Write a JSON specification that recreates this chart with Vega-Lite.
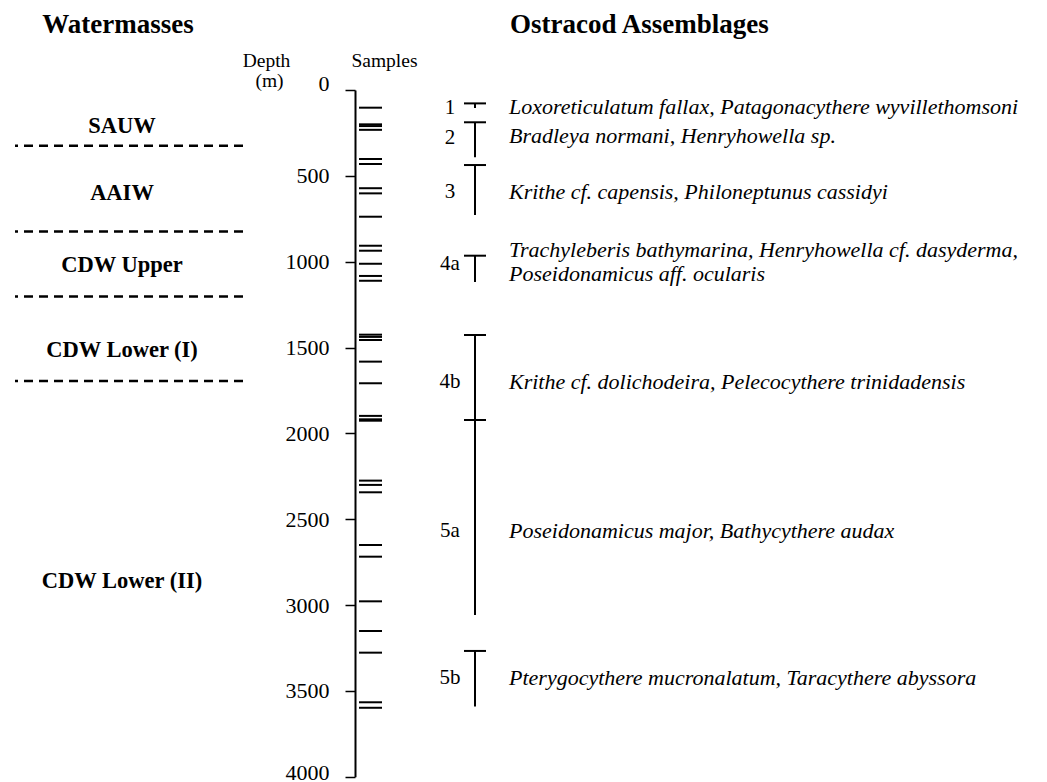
{
  "$schema": "https://vega.github.io/schema/vega-lite/v6.json",
  "background": "white",
  "padding": {"left": 13, "top": 0, "right": 0, "bottom": 0},
  "autosize": {"type": "pad"},
  "config": {"view": {"stroke": null}, "font": "Liberation Serif", "text": {"color": "black"}},
  "datasets": {
    "boundaries": [{"depth": 324}, {"depth": 824}, {"depth": 1203}, {"depth": 1695}],
    "watermasses": [
      {"name": "SAUW", "depth": 210},
      {"name": "AAIW", "depth": 600},
      {"name": "CDW Upper", "depth": 1022},
      {"name": "CDW Lower (I)", "depth": 1517},
      {"name": "CDW Lower (II)", "depth": 2860}
    ],
    "samples": [
      {"depth": 103}, {"depth": 200}, {"depth": 210}, {"depth": 232}, {"depth": 402}, {"depth": 431},
      {"depth": 572}, {"depth": 602}, {"depth": 738}, {"depth": 907}, {"depth": 936}, {"depth": 1012},
      {"depth": 1083}, {"depth": 1111}, {"depth": 1425}, {"depth": 1438}, {"depth": 1456}, {"depth": 1582},
      {"depth": 1708}, {"depth": 1898}, {"depth": 1918}, {"depth": 1926}, {"depth": 2275}, {"depth": 2300},
      {"depth": 2343}, {"depth": 2650}, {"depth": 2718}, {"depth": 2978}, {"depth": 3151}, {"depth": 3277},
      {"depth": 3566}, {"depth": 3598}
    ],
    "assemblages": [
      {"id": "1", "top": 78, "bottom": 105, "labelDepth": 105},
      {"id": "2", "top": 188, "bottom": 392, "labelDepth": 280},
      {"id": "3", "top": 437, "bottom": 728, "labelDepth": 594},
      {"id": "4a", "top": 965, "bottom": 1118, "labelDepth": 1014},
      {"id": "4b", "top": 1427, "bottom": 1922, "labelDepth": 1700},
      {"id": "5a", "top": 1922, "bottom": 3058, "labelDepth": 2568},
      {"id": "5b", "top": 3267, "bottom": 3591, "labelDepth": 3425}
    ],
    "taxa": [
      {"depth": 99, "text": "Loxoreticulatum fallax, Patagonacythere wyvillethomsoni"},
      {"depth": 268, "text": "Bradleya normani, Henryhowella sp."},
      {"depth": 594, "text": "Krithe cf. capensis, Philoneptunus cassidyi"},
      {"depth": 930, "text": "Trachyleberis bathymarina, Henryhowella cf. dasyderma,"},
      {"depth": 1070, "text": "Poseidonamicus aff. ocularis"},
      {"depth": 1700, "text": "Krithe cf. dolichodeira, Pelecocythere trinidadensis"},
      {"depth": 2568, "text": "Poseidonamicus major,  Bathycythere audax"},
      {"depth": 3425, "text": "Pterygocythere mucronalatum, Taracythere abyssora"}
    ]
  },
  "bounds": "flush",
  "spacing": 112,
  "hconcat": [
    {
      "width": 228,
      "height": 782,
      "layer": [
        {
          "data": {"name": "boundaries"},
          "mark": {"type": "rule", "color": "black", "strokeWidth": 2.5, "strokeDash": [9, 6]},
          "encoding": {"y": {"field": "depth", "type": "quantitative", "scale": {"domain": [0, 4000], "range": [90, 776.8], "nice": false, "zero": false}, "axis": null}}
        },
        {
          "data": {"name": "watermasses"},
          "mark": {"type": "text", "fontWeight": "bold", "fontSize": 22.5, "baseline": "middle", "dx": -7},
          "encoding": {
            "y": {"field": "depth", "type": "quantitative", "scale": {"domain": [0, 4000], "range": [90, 776.8], "nice": false, "zero": false}, "axis": null},
            "text": {"field": "name"}
          }
        },
        {
          "data": {"values": [{"label": "Watermasses", "depth": -332}]},
          "mark": {"type": "text", "fontWeight": "bold", "fontSize": 27, "baseline": "alphabetic", "dx": -11},
          "encoding": {
            "y": {"field": "depth", "type": "quantitative", "scale": {"domain": [0, 4000], "range": [90, 776.8], "nice": false, "zero": false}, "axis": null},
            "text": {"field": "label"}
          }
        }
      ]
    },
    {
      "bounds": "flush",
      "spacing": 78,
      "hconcat": [
        {
          "width": 31,
          "height": 782,
          "layer": [
            {
              "data": {"name": "samples"},
              "mark": {"type": "tick", "orient": "horizontal", "size": 23, "thickness": 2, "color": "black", "opacity": 1},
              "encoding": {
                "y": {
                  "field": "depth", "type": "quantitative",
                  "scale": {"domain": [0, 4000], "range": [90, 776.8], "nice": false, "zero": false},
                  "axis": {
                    "orient": "left", "values": [0, 500, 1000, 1500, 2000, 2500, 3000, 3500, 4000],
                    "format": "d", "title": null, "grid": false, "domainColor": "black", "domainWidth": 2,
                    "tickColor": "black", "tickWidth": 1.5, "tickSize": 10,
                    "labelFont": "Liberation Serif", "labelFontSize": 22, "labelColor": "black",
                    "labelPadding": 16, "labelFlush": false, "labelOverlap": false,
                    "labelBaseline": {"condition": {"test": "datum.value === 0", "value": "alphabetic"}, "value": "middle"},
                    "labelOffset": {"condition": {"test": "datum.value === 4000", "value": -4}, "value": 0}
                  }
                }
              }
            },
            {
              "data": {"values": [{"label": "Depth", "depth": -134}]},
              "mark": {"type": "text", "fontSize": 19.5, "baseline": "alphabetic", "dx": -104},
              "encoding": {
                "y": {"field": "depth", "type": "quantitative", "scale": {"domain": [0, 4000], "range": [90, 776.8], "nice": false, "zero": false}},
                "text": {"field": "label"}
              }
            },
            {
              "data": {"values": [{"label": "(m)", "depth": -17}]},
              "mark": {"type": "text", "fontSize": 19.5, "baseline": "alphabetic", "dx": -101},
              "encoding": {
                "y": {"field": "depth", "type": "quantitative", "scale": {"domain": [0, 4000], "range": [90, 776.8], "nice": false, "zero": false}},
                "text": {"field": "label"}
              }
            },
            {
              "data": {"values": [{"label": "Samples", "depth": -134}]},
              "mark": {"type": "text", "fontSize": 19.5, "baseline": "alphabetic", "dx": 14},
              "encoding": {
                "y": {"field": "depth", "type": "quantitative", "scale": {"domain": [0, 4000], "range": [90, 776.8], "nice": false, "zero": false}},
                "text": {"field": "label"}
              }
            }
          ]
        },
        {
          "width": 22,
          "height": 782,
          "layer": [
            {
              "data": {"name": "assemblages"},
              "mark": {"type": "rule", "color": "black", "strokeWidth": 2},
              "encoding": {
                "y": {"field": "top", "type": "quantitative", "scale": {"domain": [0, 4000], "range": [90, 776.8], "nice": false, "zero": false}, "axis": null},
                "y2": {"field": "bottom"}
              }
            },
            {
              "data": {"name": "assemblages"},
              "mark": {"type": "tick", "orient": "horizontal", "size": 22, "thickness": 2, "color": "black", "opacity": 1},
              "encoding": {
                "y": {"field": "top", "type": "quantitative", "scale": {"domain": [0, 4000], "range": [90, 776.8], "nice": false, "zero": false}, "axis": null}
              }
            },
            {
              "data": {"name": "assemblages"},
              "mark": {"type": "text", "fontSize": 21, "baseline": "middle", "align": "center", "dx": -25},
              "encoding": {
                "y": {"field": "labelDepth", "type": "quantitative", "scale": {"domain": [0, 4000], "range": [90, 776.8], "nice": false, "zero": false}, "axis": null},
                "text": {"field": "id"}
              }
            },
            {
              "data": {"name": "taxa"},
              "mark": {"type": "text", "fontSize": 22, "fontStyle": "italic", "baseline": "middle", "align": "left", "dx": 34},
              "encoding": {
                "y": {"field": "depth", "type": "quantitative", "scale": {"domain": [0, 4000], "range": [90, 776.8], "nice": false, "zero": false}, "axis": null},
                "text": {"field": "text"}
              }
            },
            {
              "data": {"values": [{"label": "Ostracod Assemblages", "depth": -332}]},
              "mark": {"type": "text", "fontWeight": "bold", "fontSize": 27, "baseline": "alphabetic", "align": "left", "dx": 35},
              "encoding": {
                "y": {"field": "depth", "type": "quantitative", "scale": {"domain": [0, 4000], "range": [90, 776.8], "nice": false, "zero": false}, "axis": null},
                "text": {"field": "label"}
              }
            }
          ]
        }
      ]
    }
  ]
}
